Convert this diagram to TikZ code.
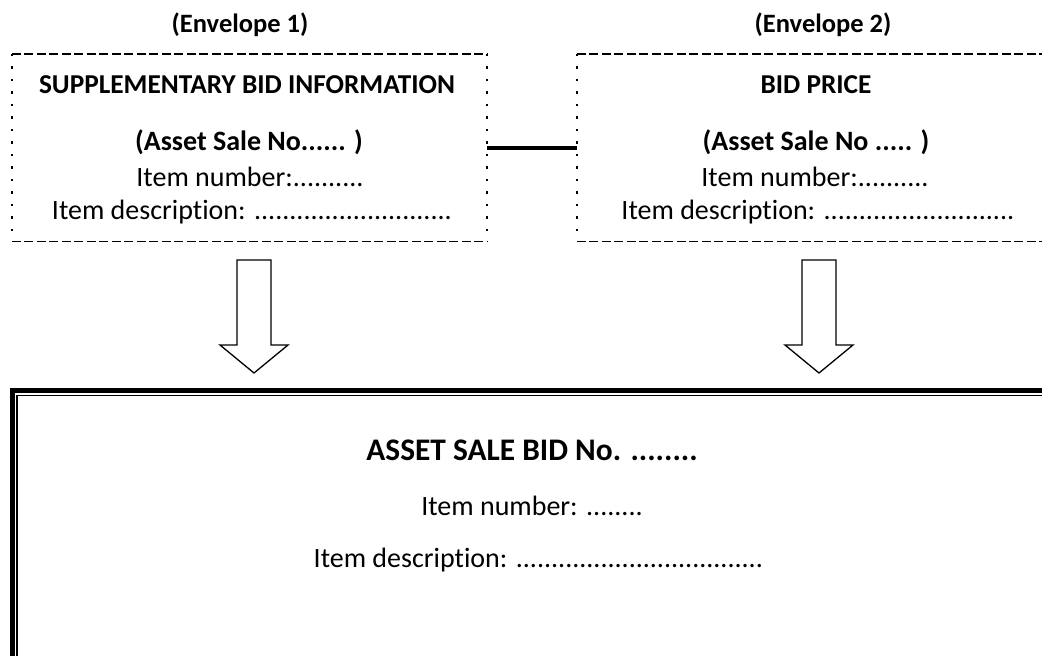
\documentclass[tikz,border=0pt]{standalone}
\usepackage{fontspec}
\setmainfont{Carlito}[Ligatures=NoCommon]
\usetikzlibrary{calc,positioning}

\tikzset{
  dashedge/.style={line width=1.4pt,dash pattern=on 9pt off 3.5pt},
  dotedge/.style={line width=2.2pt,dash pattern=on 2.2pt off 10.3pt},
  txt/.style={anchor=base,inner sep=0pt,font=\fontsize{28}{30}\selectfont},
  headtxt/.style={txt,font=\fontsize{27.3}{30}\selectfont\bfseries},
  blockarrow/.style={line width=1.3pt,line join=miter},
  envbox/.style={inner sep=0pt,minimum height=187pt}
}

\begin{document}
\begin{tikzpicture}[x=1pt,y=-1pt]
\useasboundingbox (0,0) rectangle (1042,656);
\clip (0,0) rectangle (1042,656);

\node (env1) [envbox,minimum width=475pt] at (249.5,147.5) {};
\node (env2) [envbox,minimum width=473pt] at (813.5,147.5) {};

\draw[dashedge] (env1.north west) -- (env1.north east) (env1.south west) -- (env1.south east);
\draw[dotedge] (env1.north west) -- (env1.south west) (env1.north east) -- (env1.south east);
\draw[dashedge] (env2.north west) -- (env2.north east) (env2.south west) -- (env2.south east);
\draw[dotedge] (env2.north west) -- (env2.south west);
\draw[line width=4pt] (env1.east) -- (env2.west);

\node (lab1) [headtxt,font=\fontsize{26.5}{30}\selectfont\bfseries] at (240,32) {(Envelope 1)};
\node (lab2) [headtxt,font=\fontsize{26.5}{30}\selectfont\bfseries] at (823,32) {(Envelope 2)};

\node (sup) [headtxt] at (247,93) {SUPPLEMENTARY BID INFORMATION};
\node (sale1) [headtxt,font=\fontsize{28}{30}\selectfont\bfseries] at (249,150) {(Asset Sale No...... )};
\node (num1) [txt] at (250,186) {Item number:..........};
\node (desc1) [txt] at (252,219) {Item description: ............................};

\node (price) [headtxt] at (816,93) {BID PRICE};
\node (sale2) [headtxt,font=\fontsize{28}{30}\selectfont\bfseries] at (816,150) {(Asset Sale No ..... )};
\node (num2) [txt] at (815,186) {Item number:..........};
\node (desc2) [txt] at (818,219) {Item description: ...........................};

\foreach \cx in {254,819}
  \draw[blockarrow] (\cx-17,260) -- (\cx+17,260) -- (\cx+17,345) -- (\cx+34,345)
    -- (\cx,373) -- (\cx-34,345) -- (\cx-17,345) -- cycle;

\draw[line width=5pt] (12.5,1100) |- (1100,390.5);
\draw[line width=1.5pt] (16.8,1100) |- (1100,395.5);

\node (bid) [txt,font=\fontsize{31.4}{34}\selectfont\bfseries] at (532,460) {ASSET SALE BID No. ........};
\node (num3) [txt] at (532,515) {Item number: ........};
\node (desc3) [txt] at (538.5,567) {Item description: ...................................};

\end{tikzpicture}
\end{document}
